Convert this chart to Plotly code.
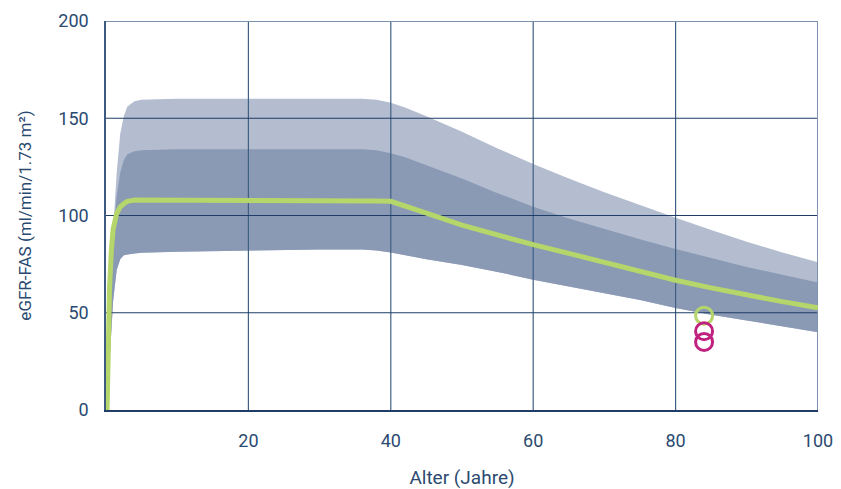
import plotly.graph_objects as go

# ---- data ----
age = [0, 0.25, 0.5, 0.75, 1, 1.5, 2, 2.5, 3, 4, 5, 10, 20, 30, 36, 38, 40, 42, 45, 50,
       55, 60, 65, 70, 75, 80, 85, 90, 95, 100]
outer_upper = [0, 25, 50, 72, 92, 122, 142, 151, 156, 158.8, 159.5, 160, 160, 160, 160, 159.5, 158,
               155.5, 151, 143, 134.5, 126.5, 119, 112, 105.2, 98.8, 92.5, 86.5, 81, 76]
inner_upper = [0, 20, 45, 68, 88, 110, 122, 128.5, 131.5, 133, 133.5, 134, 134, 134, 134, 133.5, 132,
               130, 126, 119, 111.5, 104.5, 98.5, 93, 87.8, 82.8, 78, 73.5, 69.5, 65.5]
lower = [0, 10, 25, 42, 56, 72, 77.5, 79.5, 80, 80.5, 80.8, 81.3, 82, 82.5, 82.5, 82, 81,
         79.5, 77.5, 74.5, 71, 67, 63.5, 60, 56.5, 52.5, 49, 46, 43, 40]
median_age = [0.15, 0.25, 0.5, 0.75, 1, 1.5, 2, 2.5, 3, 4, 5, 10, 20, 30, 36, 38, 40, 42, 45, 50,
              55, 60, 65, 70, 75, 80, 85, 90, 95, 100]
median = [0, 30, 63, 82, 93, 101, 104.5, 106, 107.3, 108, 108, 108, 108, 108, 107.7, 107.5, 107.3,
          105, 101.2, 95, 89.8, 85, 80.5, 75.8, 71.2, 66.7, 62.8, 59, 55.7, 52.6]

patient_age = [84, 84, 84]
patient_egfr = [48.5, 40.5, 35]
patient_colors = ["#b5d66a", "#c0207e", "#c0207e"]

x_ticks = [20, 40, 60, 80, 100]
y_ticks = [0, 50, 100, 150, 200]
x_range = [0, 100]
y_range = [0, 200]

TEXT = "#2b4a70"
LIGHT = "#b3bdcf"
DARK = "#8a9ab5"
GREEN = "#b5d66a"

fig = go.Figure()

# outer band
fig.add_trace(go.Scatter(x=age, y=lower, mode="lines", line=dict(width=0, color=LIGHT),
                         hoverinfo="skip", showlegend=False))
fig.add_trace(go.Scatter(x=age, y=outer_upper, mode="lines", line=dict(width=0, color=LIGHT),
                         fill="tonexty", fillcolor=LIGHT, hoverinfo="skip", showlegend=False))
# inner band
fig.add_trace(go.Scatter(x=age, y=lower, mode="lines", line=dict(width=0, color=DARK),
                         hoverinfo="skip", showlegend=False))
fig.add_trace(go.Scatter(x=age, y=inner_upper, mode="lines", line=dict(width=0, color=DARK),
                         fill="tonexty", fillcolor=DARK, hoverinfo="skip", showlegend=False))

# grid lines drawn above the bands
gx, gy = [], []
for t in x_ticks[:-1]:
    gx += [t, t, None]
    gy += [y_range[0], y_range[1], None]
fig.add_trace(go.Scatter(x=gx, y=gy, mode="lines", line=dict(width=1.2, color="#3f5f85"),
                         hoverinfo="skip", showlegend=False))
hx, hy = [], []
for t in y_ticks[1:-1]:
    hx += [x_range[0], x_range[1], None]
    hy += [t, t, None]
fig.add_trace(go.Scatter(x=hx, y=hy, mode="lines", line=dict(width=1.2, color="#1f3d66"),
                         hoverinfo="skip", showlegend=False))
# frame top / right
fig.add_trace(go.Scatter(x=[x_range[0], x_range[1], x_range[1]], y=[y_range[1], y_range[1], y_range[0]],
                         mode="lines", line=dict(width=2, color="#7d94b0"),
                         hoverinfo="skip", showlegend=False))

# median line
fig.add_trace(go.Scatter(x=median_age, y=median, mode="lines", line=dict(width=5, color=GREEN),
                         hoverinfo="skip", showlegend=False))

# patient values
fig.add_trace(go.Scatter(x=patient_age, y=patient_egfr, mode="markers",
                         marker=dict(symbol="circle-open", size=17, color=patient_colors,
                                     line=dict(width=3, color=patient_colors)),
                         hoverinfo="skip", showlegend=False))

fig.update_layout(
    width=841, height=489,
    margin=dict(l=106, r=23, t=21, b=79),
    paper_bgcolor="white", plot_bgcolor="white",
    font=dict(family="Roboto, sans-serif", size=18, color=TEXT),
    xaxis=dict(range=x_range, tickvals=x_ticks, showgrid=False, zeroline=False, automargin=False,
               showline=True, linecolor="#1f3d66", linewidth=1.5,
               ticks="", ticklabelstandoff=14, tickfont=dict(size=18, color=TEXT),
               title=dict(text="Alter (Jahre)", font=dict(size=19, color=TEXT), standoff=20)),
    yaxis=dict(range=y_range, tickvals=y_ticks, showgrid=False, zeroline=False, automargin=False,
               showline=True, linecolor="#3d5a80", linewidth=1.5,
               ticks="", ticklabelstandoff=12, tickfont=dict(size=18, color=TEXT),
               title=dict(text="eGFR-FAS (ml/min/1.73 m²)", font=dict(size=17, color=TEXT), standoff=22)),
)

fig.write_html("out.html", config={"displayModeBar": False},
               post_script="document.body.style.margin='0';document.body.style.overflow='hidden';")
